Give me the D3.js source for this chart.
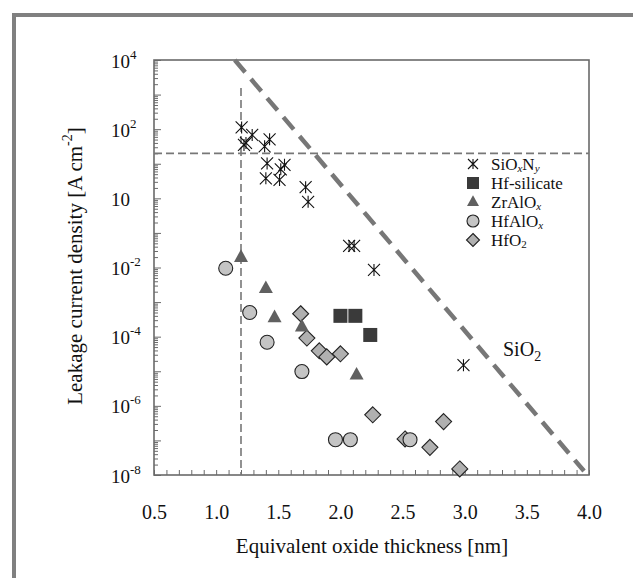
<!DOCTYPE html>
<html><head><meta charset="utf-8">
<script src="https://cdn.jsdelivr.net/npm/d3@7/dist/d3.min.js"></script>
<style>body{margin:0;background:#fff}svg{display:block}</style>
</head><body><svg id="c" width="633" height="578" font-family="'Liberation Serif', 'Times New Roman', Times, 'DejaVu Serif', serif"></svg>
<script>
// ---- data ----
const sioxnyX = [1.205,1.224,1.24,1.29,1.39,1.43,1.41,1.40,1.52,1.55,1.51,1.72,1.74,2.07,2.11,2.27,2.99];
const sioxnyJ = [112,35,40,68,32,51,10.2,3.8,6.9,9.3,3.4,2.1,0.79,0.042,0.042,0.0085,1.5e-5];
const hfSilX = [2.00,2.12,2.24];
const hfSilJ = [4e-4,4e-4,1.12e-4];
const zrAlOxX = [1.20,1.40,1.47,1.69,2.13];
const zrAlOxJ = [2e-2,2.5e-3,3.6e-4,1.95e-4,7.9e-6];
const hfAlOxX = [1.077,1.27,1.41,1.69,1.96,2.08,2.56];
const hfAlOxJ = [9.5e-3,5e-4,6.9e-5,9.8e-6,1.05e-7,1.05e-7,1.05e-7];
const hfO2X = [1.68,1.73,1.83,1.89,2.00,2.26,2.52,2.72,2.83,2.96];
const hfO2J = [4.6e-4,9.1e-5,3.9e-5,2.6e-5,3.2e-5,5.5e-7,1.1e-7,6.3e-8,3.5e-7,1.5e-8];
const sio2LineX = [1.15,3.96];
const sio2LineJ = [1e4,1.3e-8];
const limitJ = 20;          // horizontal dashed limit
const limitEOT = 1.2;       // vertical dashed limit
const limitEOTTopJ = 1.55e3;
const xTicks = [0.5,1.0,1.5,2.0,2.5,3.0,3.5,4.0];
const yTickExp = [4,2,0,-2,-4,-6,-8];
const yTickBase = ["10","10","10","10","10","10","10"];
const yTickSup = ["4","2","","-2","-4","-6","-8"];
const legendNames = ["SiOxNy","Hf-silicate","ZrAlOx","HfAlOx","HfO2"];

// ---- layout ----
const svg = d3.select("#c");
const L=154,R=589,T=60,B=475;
const x = d3.scaleLinear().domain([0.5,4.0]).range([L,R]);
const y = d3.scaleLog().domain([1e-8,1e4]).range([B,T]);
const gray="#6a6a6a", ink="#111";

// outer frame bars
svg.append("rect").attr("x",12).attr("y",13).attr("width",621).attr("height",4).attr("fill","#808080");
svg.append("rect").attr("x",12).attr("y",13).attr("width",4).attr("height",565).attr("fill","#808080");

// axes
const minorY=[];
for(let e=-8;e<4;e++) for(let k=2;k<=9;k++) minorY.push(k*Math.pow(10,e));
const majorY = d3.range(-8,5).map(e=>Math.pow(10,e));
const minorX = d3.range(5,41).map(i=>i/10);

function styleAxis(g){g.select(".domain").remove();g.selectAll("line").attr("stroke",gray).attr("stroke-width",1);}
svg.append("g").attr("transform",`translate(${L},0)`).call(d3.axisLeft(y).tickValues(minorY).tickSize(-4).tickFormat("")).call(styleAxis);
svg.append("g").attr("transform",`translate(${L},0)`).call(d3.axisLeft(y).tickValues(majorY).tickSize(-7).tickFormat("")).call(styleAxis);
svg.append("g").attr("transform",`translate(0,${B})`).call(d3.axisBottom(x).tickValues(minorX).tickSize(-5).tickFormat("")).call(styleAxis);

// y labels
const yl = svg.append("g").attr("transform",`translate(${L},0)`)
  .call(d3.axisLeft(y).tickValues(yTickExp.map(e=>Math.pow(10,e))).tickSize(0).tickFormat(""));
yl.select(".domain").remove();
yl.attr("font-family",null);
yl.selectAll(".tick").each(function(d,i){
  const t=d3.select(this).append("text").attr("x",-43).attr("y",7).attr("text-anchor","start")
    .attr("font-size",19).attr("fill",ink);
  t.append("tspan").text(yTickBase[i]);
  if(yTickSup[i]) t.append("tspan").attr("dy",-9).attr("font-size",13).text(yTickSup[i]);
});
// x labels
const xl = svg.append("g").attr("transform",`translate(0,${B})`)
  .call(d3.axisBottom(x).tickValues(xTicks).tickSize(0).tickFormat(d3.format(".1f")));
xl.select(".domain").remove();
xl.attr("font-family",null).attr("font-size",null);
xl.selectAll("text").attr("y",44).attr("dy",0).attr("font-size",20).attr("fill",ink);

// plot box
svg.append("rect").attr("x",L).attr("y",T).attr("width",R-L).attr("height",B-T)
  .attr("fill","none").attr("stroke",gray).attr("stroke-width",1.6);

// dashed guide lines
svg.append("line").attr("x1",x(0.5)).attr("x2",x(4.0)).attr("y1",y(limitJ)).attr("y2",y(limitJ))
  .attr("stroke","#777").attr("stroke-width",1.6).attr("stroke-dasharray","8,4");
svg.append("line").attr("x1",x(limitEOT)).attr("x2",x(limitEOT)).attr("y1",y(limitEOTTopJ)).attr("y2",y(1e-8))
  .attr("stroke","#777").attr("stroke-width",1.6).attr("stroke-dasharray","8,4");
const line=d3.line().x(d=>x(d[0])).y(d=>y(d[1]));
svg.append("path").datum(sio2LineX.map((v,i)=>[v,sio2LineJ[i]])).attr("d",line)
  .attr("fill","none").attr("stroke","#777").attr("stroke-width",4.5).attr("stroke-dasharray","16,9");

// markers
const zip=(a,b)=>a.map((v,i)=>[v,b[i]]);
function starX(s){const r=s/2;return `M${-r},${-r}L${r},${r}M${-r},${r}L${r},${-r}M0,${-r}L0,${r}`;}
function drawSym(g,kind,size){
  if(kind==="star"){g.append("path").attr("d",starX(size)).attr("stroke","#111").attr("stroke-width",1.1).attr("fill","none");}
  else if(kind==="square"){g.append("rect").attr("x",-size/2).attr("y",-size/2).attr("width",size).attr("height",size).attr("fill","#3a3a3a");}
  else if(kind==="tri"){const h=size*0.9;g.append("path").attr("d",`M0,${-h*0.62}L${size/2},${h*0.38}L${-size/2},${h*0.38}Z`).attr("fill","#606060");}
  else if(kind==="circle"){g.append("circle").attr("r",size/2).attr("fill","#c4c4c4").attr("stroke","#222").attr("stroke-width",1.1);}
  else if(kind==="diamond"){const r=size/2;g.append("path").attr("d",`M0,${-r}L${r},0L0,${r}L${-r},0Z`).attr("fill","#b0b0b0").attr("stroke","#222").attr("stroke-width",1.1);}
}
function series(data,kind,size){
  svg.append("g").selectAll("g").data(data).join("g")
    .attr("transform",d=>`translate(${x(d[0])},${y(d[1])})`)
    .each(function(){drawSym(d3.select(this),kind,size);});
}
series(zip(hfO2X,hfO2J),"diamond",16);
series(zip(hfAlOxX,hfAlOxJ),"circle",14);
series(zip(zrAlOxX,zrAlOxJ),"tri",14);
series(zip(hfSilX,hfSilJ),"square",14);
series(zip(sioxnyX,sioxnyJ),"star",12);

// SiO2 label
const s2=svg.append("text").attr("x",503).attr("y",356).attr("font-size",20).attr("fill",ink);
s2.append("tspan").text("SiO");
s2.append("tspan").attr("dy",5).attr("font-size",14).text("2");

// legend
const legKinds=["star","square","tri","circle","diamond"];
const legSizes=[10,12,12,12,13];
const legY=[164,183,202,221,240];
legendNames.forEach((n,i)=>{
  const g=svg.append("g").attr("transform",`translate(473,${legY[i]})`);
  drawSym(g,legKinds[i],legSizes[i]);
  const t=svg.append("text").attr("x",491).attr("y",legY[i]+6).attr("font-size",17).attr("fill",ink);
  const sub=(s,italic)=>t.append("tspan").attr("dy",1.5).attr("font-size",11).attr("font-style",italic?"italic":"normal").text(s);
  const back=()=>t.append("tspan").attr("dy",-1.5);
  if(i===0){t.append("tspan").text("SiO");sub("x",true);back().text("N");sub("y",true);}
  else if(i===1){t.append("tspan").text("Hf-silicate");}
  else if(i===2){t.append("tspan").text("ZrAlO");sub("x",true);}
  else if(i===3){t.append("tspan").text("HfAlO");sub("x",true);}
  else {t.append("tspan").text("HfO");sub("2",false);}
});

// axis titles
svg.append("text").attr("x",372).attr("y",553).attr("text-anchor","middle").attr("font-size",21).attr("fill",ink)
  .text("Equivalent oxide thickness [nm]");
const yt=svg.append("text").attr("transform","translate(82,266) rotate(-90)").attr("text-anchor","middle").attr("font-size",21).attr("fill",ink);
yt.append("tspan").text("Leakage current density [A cm");
yt.append("tspan").attr("dy",-10).attr("font-size",14).text("-2");
yt.append("tspan").attr("dy",10).text("]");
</script></body></html>
